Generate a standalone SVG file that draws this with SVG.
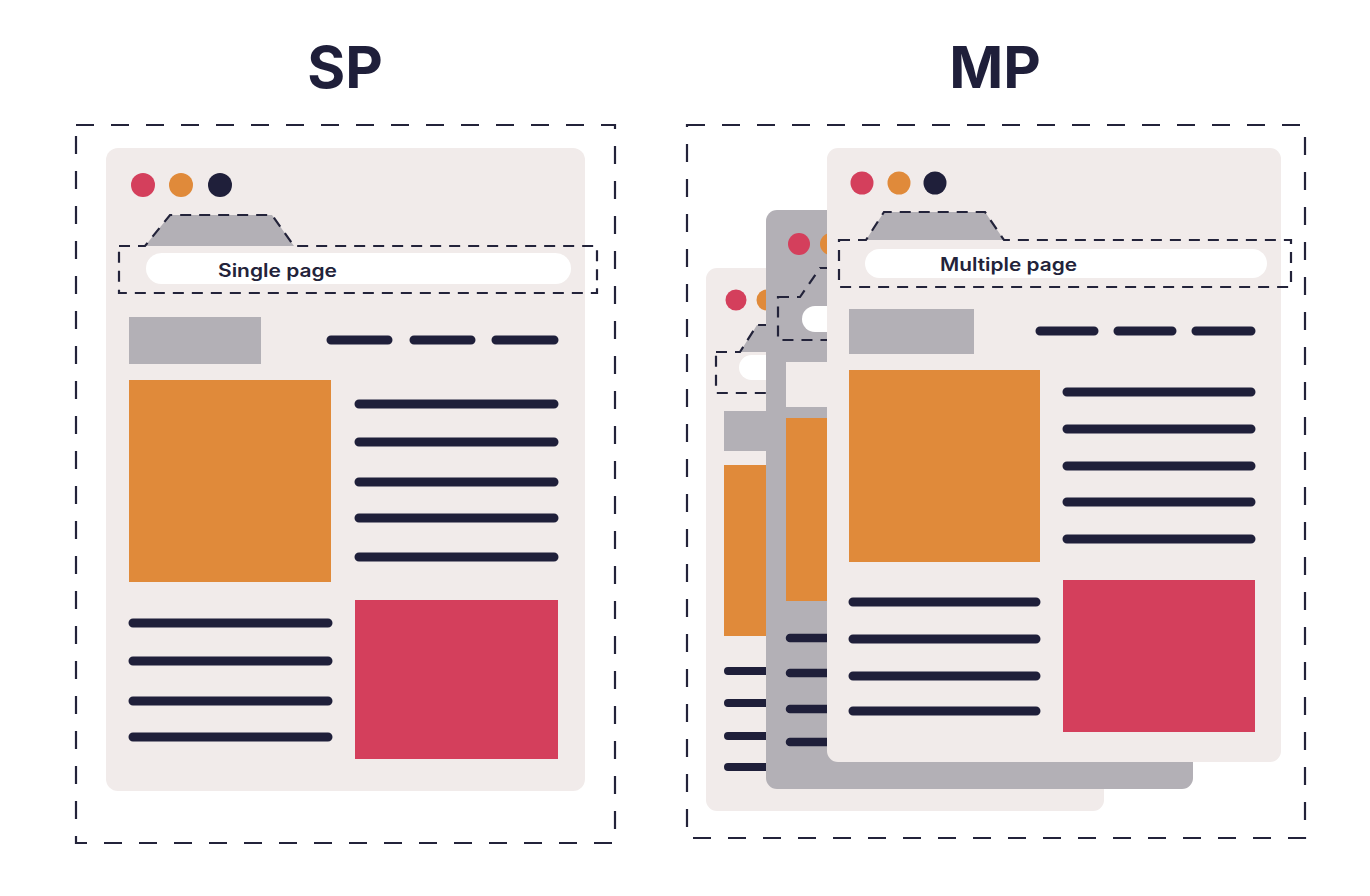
<svg xmlns="http://www.w3.org/2000/svg" width="1370" height="896" viewBox="0 0 1370 896">
<style>
.bg{fill:#ffffff}
.page{fill:#f1ebea}
.grey{fill:#b3b0b6}
.orange{fill:#e08a3a}
.red{fill:#d43f5c}
.dark{fill:#1f1f3a}
.white{fill:#ffffff}
.frame{fill:none;stroke:#23233a;stroke-width:2.2;stroke-dasharray:18 17}
.dash{fill:none;stroke:#23233a;stroke-width:2.2;stroke-dasharray:11 8}
.ln{stroke:#1f1f3a;stroke-width:9;stroke-linecap:round;fill:none}
.title{font-family:Inter,"Liberation Sans",sans-serif;font-weight:bold;font-size:58px;fill:#1f1f3a}
.lbl{font-family:Inter,"Liberation Sans",sans-serif;font-weight:600;font-size:18px;fill:#23233a}
</style>
<rect class="bg" x="0" y="0" width="1370" height="896"/>

<g id="title-sp"><text class="title" x="345" y="88" text-anchor="middle">SP</text></g>
<g id="title-mp"><text class="title" x="995" y="88" text-anchor="middle">MP</text></g>

<g id="frame-sp"><rect class="frame" x="76" y="125" width="539" height="718"/></g>
<g id="frame-mp"><rect class="frame" x="687" y="125" width="618" height="713"/></g>

<!-- SP page -->
<g id="sp-page">
  <rect class="page" x="106" y="148" width="479" height="643" rx="12"/>
  <circle class="red" cx="143" cy="185" r="12"/>
  <circle class="orange" cx="181" cy="185" r="12"/>
  <circle class="dark" cx="220" cy="185" r="12"/>
  <path class="grey" d="M145,246 L170,215 H272 L294,246 Z"/>
  <rect class="white" x="146" y="253" width="425" height="31" rx="15.5"/>
  <path class="dash" d="M119,246 H145 L170,215 H272 L294,246 H597 V293 H119 Z"/>
  <text class="lbl" x="218" y="276.5" textLength="119" lengthAdjust="spacingAndGlyphs">Single page</text>
  <rect class="grey" x="129" y="317" width="132" height="47"/>
  <path class="ln" d="M331,340 H388 M414,340 H471 M496,340 H554"/>
  <rect class="orange" x="129" y="380" width="202" height="202"/>
  <path class="ln" d="M359,404 H554 M359,442 H554 M359,482 H554 M359,518 H554 M359,557 H554"/>
  <path class="ln" d="M133,623 H328 M133,661 H328 M133,701 H328 M133,737 H328"/>
  <rect class="red" x="355" y="600" width="203" height="159"/>
</g>

<!-- MP back page -->
<g id="mp-back">
  <rect class="page" x="706" y="268" width="398" height="543" rx="11"/>
  <circle class="red" cx="736" cy="300" r="10.5"/>
  <circle class="orange" cx="767" cy="300" r="10.5"/>
  <circle class="dark" cx="798" cy="300" r="10.5"/>
  <path class="grey" d="M740,352 L757,325 H840 L857,352 Z"/>
  <rect class="white" x="739" y="355" width="340" height="25" rx="12.5"/>
  <path class="dash" d="M716,352 H740 L757,325 H840 L857,352 H1114 V393 H716 Z"/>
  <rect class="grey" x="724" y="411" width="110" height="40"/>
  <rect class="orange" x="724" y="465" width="170" height="171"/>
  <path class="ln" d="M728,671 H890 M728,703 H890 M728,736 H890 M728,767 H890" style="stroke-width:8"/>
</g>

<!-- MP middle page -->
<g id="mp-middle">
  <rect class="grey" x="766" y="210" width="427" height="579" rx="11"/>
  <circle class="red" cx="799" cy="244" r="11"/>
  <circle class="orange" cx="831" cy="244" r="11"/>
  <circle class="dark" cx="864" cy="244" r="11"/>
  <rect class="white" x="802" y="306" width="380" height="26" rx="13"/>
  <path class="dash" d="M778,297 H800 L820,268 H915 L935,297 H1205 V340 H778 Z"/>
  <rect class="page" x="786" y="362" width="118" height="45"/>
  <rect class="orange" x="786" y="418" width="182" height="183"/>
  <path class="ln" d="M790,638 H964 M790,673 H964 M790,709 H964 M790,742 H964" style="stroke-width:8.5"/>
</g>

<!-- MP front page -->
<g id="mp-front">
  <rect class="page" x="827" y="148" width="454" height="614" rx="11"/>
  <circle class="red" cx="862" cy="183" r="11.5"/>
  <circle class="orange" cx="899" cy="183" r="11.5"/>
  <circle class="dark" cx="935" cy="183" r="11.5"/>
  <path class="grey" d="M866,240 L884,212 H985 L1004,240 Z"/>
  <rect class="white" x="865" y="249" width="402" height="29" rx="14.5"/>
  <path class="dash" d="M839,240 H866 L884,212 H985 L1004,240 H1291 V287 H839 Z"/>
  <text class="lbl" x="940" y="270.5" textLength="137" lengthAdjust="spacingAndGlyphs">Multiple page</text>
  <rect class="grey" x="849" y="309" width="125" height="45"/>
  <path class="ln" d="M1040,331 H1094 M1118,331 H1172 M1196,331 H1251"/>
  <rect class="orange" x="849" y="370" width="191" height="192"/>
  <path class="ln" d="M1067,392 H1251 M1067,429 H1251 M1067,466 H1251 M1067,502 H1251 M1067,539 H1251"/>
  <path class="ln" d="M853,602 H1036 M853,639 H1036 M853,676 H1036 M853,711 H1036"/>
  <rect class="red" x="1063" y="580" width="192" height="152"/>
</g>
</svg>
